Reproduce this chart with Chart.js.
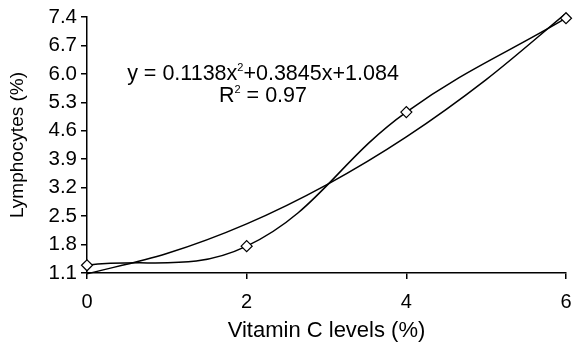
<!DOCTYPE html>
<html>
<head>
<meta charset="utf-8">
<script src="https://cdn.jsdelivr.net/npm/chart.js@4.4.0/dist/chart.umd.min.js"></script>
<style>
  html, body { margin: 0; padding: 0; background: #fff; }
  #wrap { width: 577px; height: 342px; }
</style>
</head>
<body>
<div id="wrap"><canvas id="myChart" width="577" height="342"></canvas></div>
<script>
// values
var vitaminC = [0, 2, 4, 6];
var lymphocytes = [1.29, 1.76, 5.06, 7.37];
// polynomial trend line (as drawn), read at whole levels
var trendX = [0, 1, 2, 3, 4, 5, 6];
var trendY = [1.08, 1.58, 2.31, 3.27, 4.45, 5.86, 7.49];
var yTicks = [1.1, 1.8, 2.5, 3.2, 3.9, 4.6, 5.3, 6.0, 6.7, 7.4];
var xTicks = [0, 2, 4, 6];

var FONT = "'Liberation Sans', Arial, sans-serif";

function toPoints(xs, ys) {
  return xs.map(function (x, i) { return { x: x, y: ys[i] }; });
}

// draws one centred line of text, pieces can be raised (superscript)
function drawRich(c, parts, cx, y) {
  var total = 0;
  parts.forEach(function (p) { c.font = p[1]; total += c.measureText(p[0]).width; });
  var x = cx - total / 2;
  parts.forEach(function (p) {
    c.font = p[1];
    c.fillText(p[0], x, y + p[2]);
    x += c.measureText(p[0]).width;
  });
}

// equation label drawn on the plot
var equationLabel = {
  id: 'equationLabel',
  afterDatasetsDraw: function (chart) {
    var c = chart.ctx, a = chart.chartArea;
    c.save();
    c.fillStyle = '#000';
    c.textBaseline = 'alphabetic';
    var big = '21.5px ' + FONT, small = '11px ' + FONT;
    var cx = a.left + 176;
    drawRich(c, [['y = 0.1138x', big, 0], ['2', small, -9], ['+0.3845x+1.084', big, 0]], cx, a.top + 63);
    drawRich(c, [['R', big, 0], ['2', small, -9], [' = 0.97', big, 0]], cx, a.top + 85);
    c.restore();
  }
};

var ctx = document.getElementById('myChart').getContext('2d');
var chart = new Chart(ctx, {
  type: 'line',
  data: {
    datasets: [
      {
        label: 'Lymphocytes',
        data: toPoints(vitaminC, lymphocytes),
        borderColor: '#000',
        borderWidth: 1.5,
        tension: 0.4,
        pointStyle: 'rectRot',
        pointRadius: 5.5,
        pointBackgroundColor: '#fff',
        pointBorderColor: '#000',
        pointBorderWidth: 1.2,
        clip: 8,
        order: 0
      },
      {
        label: 'Trend',
        data: toPoints(trendX, trendY),
        borderColor: '#000',
        borderWidth: 1.5,
        cubicInterpolationMode: 'monotone',
        pointRadius: 0,
        clip: 3,
        order: 1
      }
    ]
  },
  options: {
    responsive: false,
    animation: false,
    layout: { padding: { top: 17, right: 11, left: 0, bottom: 0 } },
    plugins: { legend: { display: false }, tooltip: { enabled: false } },
    scales: {
      x: {
        type: 'linear',
        min: 0, max: 6,
        afterFit: function (s) { s.height = 69; s.paddingRight = 0; s.paddingLeft = 0; },
        afterBuildTicks: function (s) { s.ticks = xTicks.map(function (v) { return { value: v }; }); },
        border: { color: '#000', width: 1.5 },
        grid: { display: true, drawOnChartArea: false, drawTicks: true, tickLength: 6, color: '#000', lineWidth: 1.5 },
        ticks: { color: '#000', font: { family: FONT, size: 20 }, padding: 11, maxRotation: 0 },
        title: { display: true, text: 'Vitamin C levels (%)', color: '#000', font: { family: FONT, size: 22 }, padding: { top: 4, bottom: -2 } }
      },
      y: {
        min: 1.1, max: 7.4,
        afterFit: function (s) { s.width = 87; },
        afterBuildTicks: function (s) { s.ticks = yTicks.map(function (v) { return { value: v }; }); },
        border: { color: '#000', width: 1.5 },
        grid: { display: true, drawOnChartArea: false, drawTicks: true, tickLength: 6, color: '#000', lineWidth: 1.5 },
        ticks: {
          color: '#000', font: { family: FONT, size: 20.5 }, padding: 4,
          callback: function (v) { return v.toFixed(1); }
        },
        title: { display: true, text: 'Lymphocytes (%)', color: '#000', font: { family: FONT, size: 19 }, padding: { top: 6, bottom: 4 } }
      }
    }
  },
  plugins: [equationLabel]
});
</script>
</body>
</html>
